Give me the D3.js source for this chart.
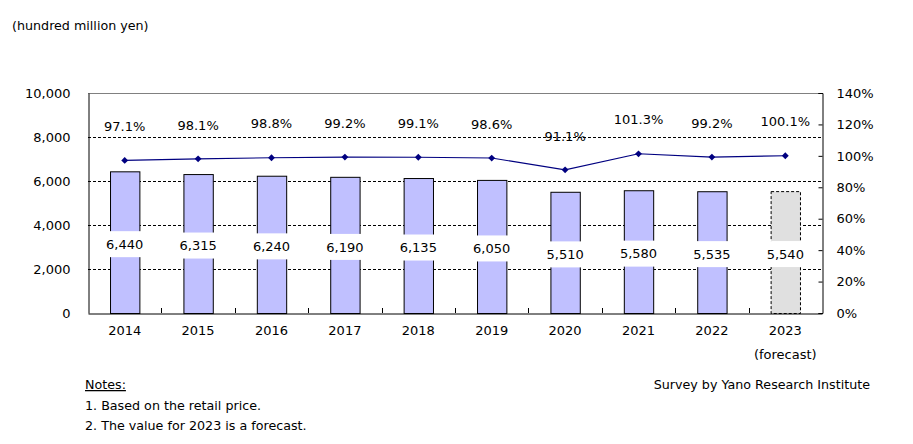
<!DOCTYPE html>
<html><head><meta charset="utf-8">
<script src="https://cdn.jsdelivr.net/npm/d3@7"></script>
<style>
html,body{margin:0;padding:0;background:#fff;}
svg{display:block;font-family:"DejaVu Sans",Verdana,sans-serif;}
</style></head>
<body><svg id="c" width="913" height="444"></svg>
<script>
const years = ["2014","2015","2016","2017","2018","2019","2020","2021","2022","2023"];
const marketSize = [6440,6315,6240,6190,6135,6050,5510,5580,5535,5540];
const yoyRate = [97.1,98.1,98.8,99.2,99.1,98.6,91.1,101.3,99.2,100.1];
const leftTicks = [0,2000,4000,6000,8000,10000];
const rightTicks = [0,20,40,60,80,100,120,140];
const forecastYear = "2023";

const svg = d3.select("#c");
const L = 88, R = 822, T = 93, B = 313;
const x = d3.scaleBand().domain(years).range([L, R]).paddingInner(0.6).paddingOuter(0.3);
const yL = d3.scaleLinear().domain([0, 10000]).range([B, T]);
const yR = d3.scaleLinear().domain([0, 140]).range([B, T]);
const fmt = d3.format(",");
const cx = d => x(d) + x.bandwidth() / 2;

// gridlines
svg.append("g").selectAll("line").data(leftTicks.filter(t => t > 0 && t < 10000)).join("line")
  .attr("x1", L).attr("x2", R).attr("y1", d => yL(d) + 0.5).attr("y2", d => yL(d) + 0.5)
  .attr("stroke", "#000").attr("stroke-width", 1).attr("stroke-dasharray", "3,2");
// top border
svg.append("line").attr("x1", L).attr("x2", R).attr("y1", T + 0.5).attr("y2", T + 0.5)
  .attr("stroke", "#808080");

// bars
svg.append("g").selectAll("rect").data(years).join("rect")
  .attr("x", d => x(d) + 0.5)
  .attr("y", (d, i) => yL(marketSize[i]) + 0.5)
  .attr("width", x.bandwidth())
  .attr("height", (d, i) => B - yL(marketSize[i]))
  .attr("fill", d => d === forecastYear ? "#e0e0e0" : "#c0c0ff")
  .attr("stroke", "#000").attr("stroke-width", 1)
  .attr("stroke-dasharray", d => d === forecastYear ? "3,2" : null);

// value labels with white boxes
const vl = svg.append("g").selectAll("g").data(years).join("g")
  .attr("transform", (d, i) => `translate(${cx(d)},${(yL(marketSize[i]) + B) / 2 + 2})`);
vl.append("rect").attr("x", -24).attr("y", -13).attr("width", 48).attr("height", 26).attr("fill", "#fff");
vl.append("text").attr("text-anchor", "middle").attr("dy", "0.36em").attr("font-size", 13)
  .attr("fill", "#000").text((d, i) => fmt(marketSize[i]));

// axes
const axL = svg.append("g").attr("transform", `translate(${L + 0.5},0)`)
  .call(d3.axisLeft(yL).tickValues(leftTicks).tickFormat(fmt).tickSize(0).tickPadding(18));
axL.select(".domain").attr("stroke", "#000");
axL.selectAll("text").attr("font-size", 13).attr("font-family", "DejaVu Sans, Verdana, sans-serif").attr("fill", "#000");

const axR = svg.append("g").attr("transform", `translate(${R + 0.5},0)`)
  .call(d3.axisRight(yR).tickValues(rightTicks).tickFormat(d => d + "%").tickSize(-4).tickPadding(14));
axR.select(".domain").attr("stroke", "#000");
axR.selectAll("line").attr("stroke", "#000");
axR.selectAll("text").attr("font-size", 13).attr("font-family", "DejaVu Sans, Verdana, sans-serif").attr("fill", "#000");

const axB = svg.append("g").attr("transform", `translate(0,${B + 0.5})`)
  .call(d3.axisBottom(x).tickSize(0).tickPadding(12));
axB.select(".domain").attr("stroke", "#000");
axB.selectAll("text").attr("font-size", 13).attr("font-family", "DejaVu Sans, Verdana, sans-serif").attr("fill", "#000");
// category boundary ticks (inside)
svg.append("g").selectAll("line").data(years.slice(1)).join("line")
  .attr("x1", d => Math.round(x(d) - x.step() * x.paddingInner() / 2) + 0.5)
  .attr("x2", d => Math.round(x(d) - x.step() * x.paddingInner() / 2) + 0.5)
  .attr("y1", B).attr("y2", B - 5).attr("stroke", "#000");
svg.append("text").attr("x", cx(forecastYear)).attr("y", 359).attr("text-anchor", "middle")
  .attr("font-size", 13).text("(forecast)");

// line
const line = d3.line().x(d => cx(d)).y((d, i) => yR(yoyRate[i]));
svg.append("path").datum(years).attr("d", line).attr("fill", "none")
  .attr("stroke", "#000080").attr("stroke-width", 1.1);
svg.append("g").selectAll("path").data(years).join("path")
  .attr("transform", (d, i) => `translate(${cx(d)},${yR(yoyRate[i])})`)
  .attr("d", d3.symbol(d3.symbolDiamond2, 30)).attr("fill", "#000080");
svg.append("g").selectAll("text").data(years).join("text")
  .attr("x", d => cx(d)).attr("y", (d, i) => yR(yoyRate[i]) - 34)
  .attr("dy", "0.36em").attr("text-anchor", "middle").attr("font-size", 13)
  .text((d, i) => yoyRate[i].toFixed(1) + "%");

// titles & notes
svg.append("text").attr("x", 12).attr("y", 30).attr("font-size", 12.7).text("(hundred million yen)");
svg.append("text").attr("x", 85).attr("y", 389).attr("font-size", 12.7).attr("text-decoration", "underline").text("Notes:");
svg.append("text").attr("x", 85).attr("y", 410).attr("font-size", 12.7).text("1. Based on the retail price.");
svg.append("text").attr("x", 85).attr("y", 430).attr("font-size", 12.7).text("2. The value for 2023 is a forecast.");
svg.append("text").attr("x", 870).attr("y", 389).attr("text-anchor", "end").attr("font-size", 12.7).text("Survey by Yano Research Institute");
</script></body></html>
